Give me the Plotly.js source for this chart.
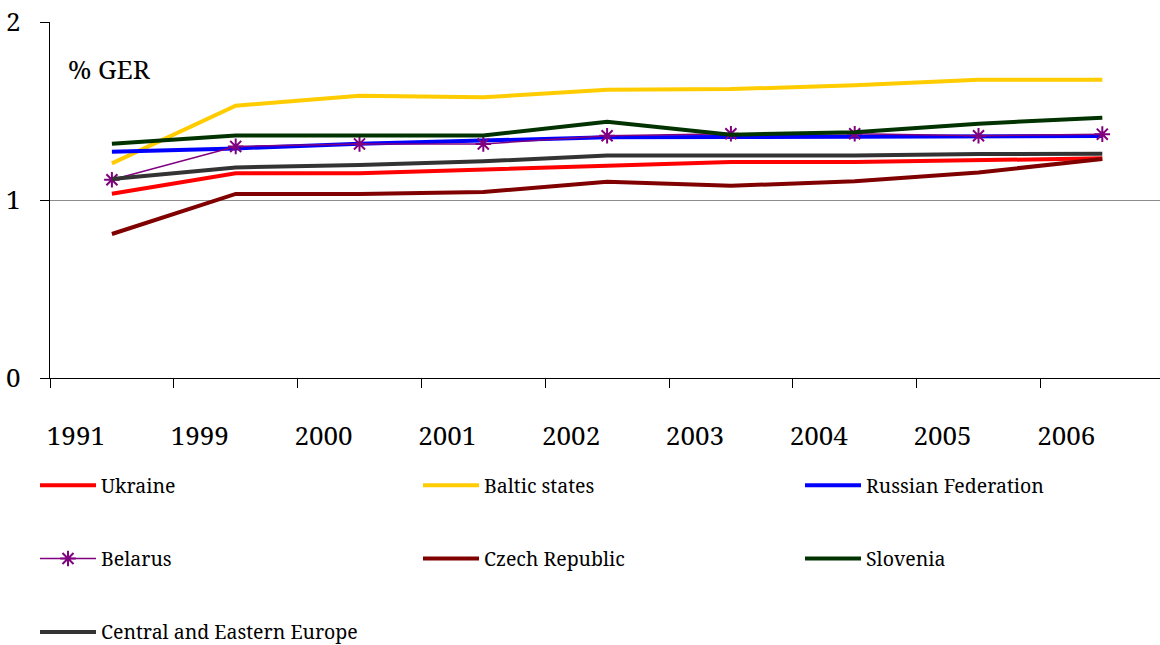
<!DOCTYPE html>
<html>
<head>
<meta charset="utf-8">
<script src="https://cdn.plot.ly/plotly-3.0.1.min.js"></script>
<style>
  html, body { margin: 0; padding: 0; background: #fff; }
  #chart { width: 1160px; height: 645px; }
</style>
</head>
<body>
<div id="chart"></div>
<script>
// Gross expenditure on R&D as % of GDP, by country group
const years = ['1991', '1999', '2000', '2001', '2002', '2003', '2004', '2005', '2006'];

const ukraine  = [1.035, 1.15, 1.15, 1.17, 1.195, 1.213, 1.213, 1.226, 1.234];
const baltic   = [1.206, 1.53, 1.586, 1.577, 1.62, 1.623, 1.644, 1.676, 1.676];
const russia   = [1.271, 1.29, 1.316, 1.333, 1.352, 1.354, 1.357, 1.361, 1.36];
const belarus  = [1.114, 1.301, 1.315, 1.315, 1.361, 1.372, 1.372, 1.361, 1.37];
const czech    = [0.809, 1.034, 1.034, 1.045, 1.103, 1.08, 1.105, 1.155, 1.23];
const slovenia = [1.316, 1.363, 1.363, 1.363, 1.44, 1.367, 1.38, 1.429, 1.462];
const cee      = [1.118, 1.183, 1.197, 1.217, 1.25, 1.25, 1.25, 1.258, 1.26];

const serif = '"Noto Serif", "DejaVu Serif", serif';

function series(name, y, color, legend, extra) {
  return Object.assign({
    type: 'scatter', mode: 'lines', name: name,
    x: years, y: y, legend: legend, legendgroup: name,
    line: { color: color, width: 4 }
  }, extra || {});
}

const data = [
  series('Ukraine', ukraine, '#FF0000', 'legend'),
  series('Baltic states', baltic, '#FFCC00', 'legend2'),
  series('Russian Federation', russia, '#0000FF', 'legend3'),
  series('Belarus', belarus, '#800080', 'legend', {
    mode: 'lines+markers',
    line: { color: '#800080', width: 1.5 },
    marker: { symbol: 'asterisk-open', size: 13, color: '#800080',
              line: { color: '#800080', width: 2 } }
  }),
  series('Czech Republic', czech, '#800000', 'legend2'),
  series('Slovenia', slovenia, '#003300', 'legend3'),
  series('Central and Eastern Europe', cee, '#333333', 'legend')
];

// one vertical legend per column, rows spaced with tracegroupgap
function legendColumn(xPix) {
  return {
    orientation: 'v',
    xref: 'container', yref: 'container',
    x: xPix / 1160, xanchor: 'left',
    y: (645 - 466) / 645, yanchor: 'top',
    itemwidth: 56,
    traceorder: 'grouped', tracegroupgap: 45,
    maxheight: 400,
    bgcolor: 'rgba(0,0,0,0)', borderwidth: 0,
    font: { family: serif, size: 19.5, color: '#000' }
  };
}

const layout = {
  width: 1160, height: 645,
  margin: { l: 50, r: 0, t: 22, b: 267, pad: 0, autoexpand: false },
  paper_bgcolor: '#fff', plot_bgcolor: '#fff',
  font: { family: serif, color: '#000' },
  showlegend: true,
  xaxis: {
    type: 'category',
    range: [-0.5, 8.466],
    showgrid: false, zeroline: false,
    showline: true, linecolor: '#000', linewidth: 1.3,
    ticks: 'outside', tickson: 'boundaries', ticklen: 9, tickcolor: '#000', tickwidth: 1,
    tickfont: { family: serif, size: 26, color: '#000' },
    ticklabelshift: -36, ticklabelstandoff: 34
  },
  yaxis: {
    range: [0, 2],
    tickvals: [0, 1, 2], ticktext: ['0', '1', '2'],
    showgrid: true, gridcolor: '#8c8c8c', gridwidth: 1,
    zeroline: false,
    showline: true, linecolor: '#000', linewidth: 1.3,
    ticks: 'outside', ticklen: 9, tickcolor: '#000', tickwidth: 1,
    tickfont: { family: serif, size: 26, color: '#000' },
    ticklabelstandoff: 14
  },
  legend: legendColumn(35),
  legend2: legendColumn(418),
  legend3: legendColumn(800),
  annotations: [{
    text: '% GER', showarrow: false,
    xref: 'paper', yref: 'paper',
    x: 16 / 1110, xanchor: 'left',
    y: (378 - 69) / 356, yanchor: 'middle',
    font: { family: serif, size: 26, color: '#000' }
  }]
};

Plotly.newPlot('chart', data, layout, { displayModeBar: false, staticPlot: true });
</script>
</body>
</html>
